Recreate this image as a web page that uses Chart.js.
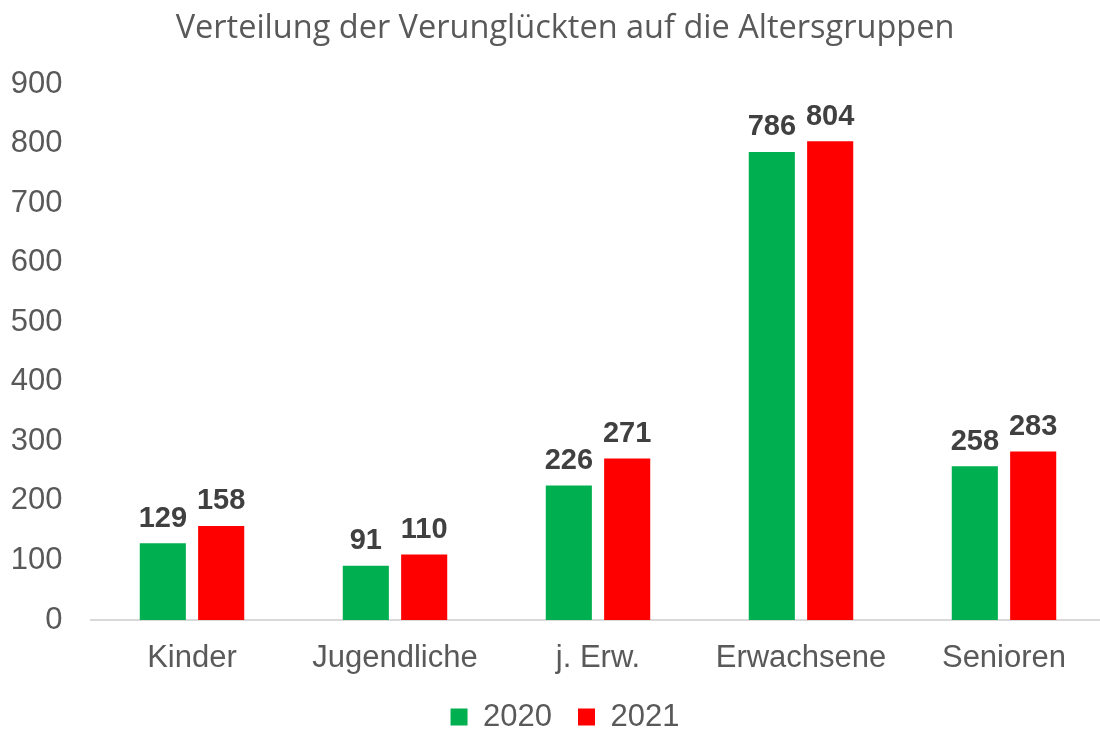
<!DOCTYPE html>
<html lang="de">
<head>
    <meta charset="UTF-8">
    <title>Verteilung der Verunglückten</title>
    <script src="https://cdn.jsdelivr.net/npm/chart.js"></script>
    <style>
        html, body { margin: 0; padding: 0; background: #fff; overflow: hidden; }
        #wrap { width: 1130px; height: 734px; }
    </style>
</head>
<body>
    <div id="wrap"><canvas id="myChart" width="1130" height="734"></canvas></div>

    <script>
        // chart data
        const categories = ['Kinder', 'Jugendliche', 'j. Erw.', 'Erwachsene', 'Senioren'];
        const values2020 = [129, 91, 226, 786, 258];
        const values2021 = [158, 110, 271, 804, 283];
        const seriesNames = ['2020', '2021'];
        const yTicks = [0, 100, 200, 300, 400, 500, 600, 700, 800, 900];

        const textGray = '#595959';
        const arial = '"Liberation Sans", Arial, sans-serif';

        // draws the bold value above every bar
        const barValues = {
            id: 'barValues',
            afterDatasetsDraw(chart) {
                const c = chart.ctx;
                c.save();
                c.font = 'bold 29px ' + arial;
                c.fillStyle = '#404040';
                c.textAlign = 'center';
                c.textBaseline = 'bottom';
                chart.data.datasets.forEach((ds, i) => {
                    chart.getDatasetMeta(i).data.forEach((bar, j) => {
                        c.fillText(ds.data[j], bar.x, bar.y - 10);
                    });
                });
                c.restore();
            }
        };

        // legend keeps wide item spacing but takes less height
        const legendHeight = {
            id: 'legendHeight',
            beforeInit(chart) {
                const legend = chart.legend;
                const fit = legend.fit;
                legend.fit = function () {
                    fit.call(this);
                    this.height -= 8.5;
                };
            }
        };

        const ctx = document.getElementById('myChart').getContext('2d');
        const chart = new Chart(ctx, {
            type: 'bar',
            data: {
                labels: categories,
                datasets: [
                    { label: seriesNames[0], data: values2020, backgroundColor: '#00B050' },
                    { label: seriesNames[1], data: values2021, backgroundColor: '#FF0000' }
                ]
            },
            options: {
                responsive: false,
                animation: false,
                categoryPercentage: 0.575,
                barPercentage: 0.79,
                layout: { padding: 0 },
                plugins: {
                    title: {
                        display: true,
                        text: 'Verteilung der Verunglückten auf die Altersgruppen',
                        color: textGray,
                        font: { family: '"Open Sans", sans-serif', size: 32.5, weight: 'normal' },
                        padding: { top: 9, bottom: 36 }
                    },
                    legend: {
                        position: 'bottom',
                        labels: {
                            color: textGray,
                            font: { family: arial, size: 31 },
                            boxWidth: 17,
                            boxHeight: 17,
                            padding: 26
                        }
                    },
                    tooltip: { enabled: false }
                },
                scales: {
                    x: {
                        grid: { display: false },
                        border: { color: '#D9D9D9', width: 2 },
                        afterFit: axis => { axis.height = 55.5; },
                        ticks: {
                            color: textGray,
                            font: { family: arial, size: 31 },
                            padding: 12
                        }
                    },
                    y: {
                        min: 0,
                        max: 900,
                        afterBuildTicks: axis => { axis.ticks = yTicks.map(v => ({ value: v })); },
                        afterFit: axis => { axis.width = 90.5; },
                        grid: { display: false, drawTicks: false },
                        border: { display: false },
                        ticks: {
                            color: textGray,
                            font: { family: arial, size: 31 },
                            padding: 28
                        }
                    },
                    // empty strip on the right, the plot runs past the picture edge
                    yRight: {
                        position: 'right',
                        min: 0,
                        max: 900,
                        afterFit: axis => { axis.width = 24.5; },
                        grid: { display: false, drawTicks: false },
                        border: { display: false },
                        ticks: { display: false }
                    }
                }
            },
            plugins: [barValues, legendHeight]
        });
    </script>
</body>
</html>
